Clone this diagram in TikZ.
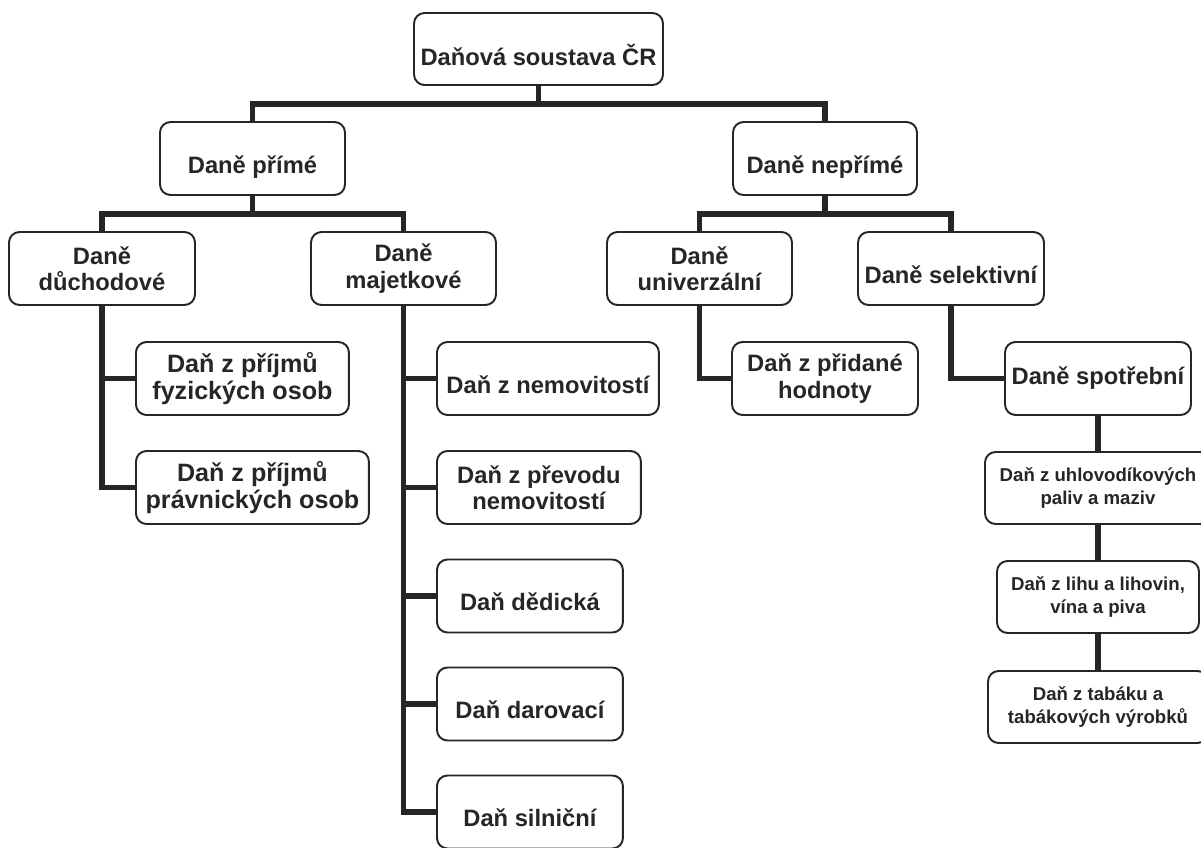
\documentclass[tikz,border=0pt]{standalone}
\usepackage{fontspec}
\setmainfont{Liberation Sans}
\usepackage{tikz}
\usetikzlibrary{positioning}

\definecolor{ink}{HTML}{262626}

\begin{document}
\begin{tikzpicture}[
    x=0.02cm, y=-0.02cm,
    box/.style={rectangle, draw=ink, line width=1.1pt, rounded corners=6pt, fill=white, text=ink, align=center, font=\fontsize{13.5}{15}\selectfont\bfseries, minimum height=1.46cm, minimum width=3.72cm, inner sep=2pt},
    oneline/.style={box, text height=17pt, text depth=0pt},
    big/.style={box, font=\fontsize{14.3}{15.6}\selectfont\bfseries},
    small/.style={box, font=\fontsize{10.6}{12.9}\selectfont\bfseries, minimum height=1.44cm},
    conn/.style={draw=ink, line width=3.1pt}
]
\useasboundingbox (0,0) rectangle (1201,848);

% top levels
\node[oneline, text height=19.2pt, minimum width=4.98cm, minimum height=1.44cm] (root) at (538.5, 49) {Daňová soustava ČR};
\node[oneline, minimum width=3.70cm] (prime) at (252.5, 158.5) {Daně přímé};
\node[oneline, minimum width=3.68cm] (neprime) at (825, 158.5) {Daně nepřímé};

\node[box] (duch) at (102, 268.5) {Daně\\důchodové};
\node[box, minimum width=3.70cm] (majet) at (403.5, 268.5) {Daně\\majetkové};
\node[box, minimum width=3.70cm] (univ) at (699.5, 268.5) {Daně\\univerzální};
\node[oneline] (selekt) at (951, 268.5) {Daně selektivní};

% direct taxes
\node[big, anchor=west, minimum width=4.26cm] (fyz) at (135, 378.5) {Daň z příjmů\\fyzických osob};
\node[big, anchor=west, minimum width=4.66cm] (prav) at (135, 487.5) {Daň z příjmů\\právnických osob};
\node[oneline, anchor=west, minimum width=4.44cm] (nemo) at (436, 378.5) {Daň z nemovitostí};
\node[box, anchor=west, minimum width=4.08cm] (prevod) at (436, 487.5) {Daň z převodu\\nemovitostí};
\node[oneline, anchor=west] (dedic) at (436, 596) {Daň dědická};
\node[oneline, anchor=west] (darov) at (436, 704) {Daň darovací};
\node[oneline, anchor=west] (silnic) at (436, 812) {Daň silniční};

% indirect taxes
\node[box] (dph) at (825, 378.5) {Daň z přidané\\hodnoty};
\node[box] (spotr) at (1098, 378.5) {Daně spotřební};
\node[small, minimum width=4.52cm] (uhlo) at (1098, 488) {Daň z uhlovodíkových\\paliv a maziv};
\node[small, minimum width=4.04cm] (lih) at (1098, 597) {Daň z lihu a lihovin,\\vína a piva};
\node[small, minimum width=4.40cm] (tabak) at (1098, 707) {Daň z tabáku a\\tabákových výrobků};

\draw[conn] (root.south) -- ++(0,18) -| (prime.north);
\draw[conn] (root.south) -- ++(0,18) -| (neprime.north);
\draw[conn] (prime.south) -- ++(0,18) -| (duch.north);
\draw[conn] (prime.south) -- ++(0,18) -| (majet.north);
\draw[conn] (neprime.south) -- ++(0,18) -| (univ.north);
\draw[conn] (neprime.south) -- ++(0,18) -| (selekt.north);

\draw[conn] (duch.south) |- (fyz.west);
\draw[conn] (duch.south) |- (prav.west);
\foreach \n in {nemo, prevod, dedic, darov, silnic}
    \draw[conn] (majet.south) |- (\n.west);
\draw[conn] (univ.south) |- (dph.west);
\draw[conn] (selekt.south) |- (spotr.west);

\draw[conn] (spotr) -- (uhlo);
\draw[conn] (uhlo) -- (lih);
\draw[conn] (lih) -- (tabak);

\end{tikzpicture}
\end{document}
